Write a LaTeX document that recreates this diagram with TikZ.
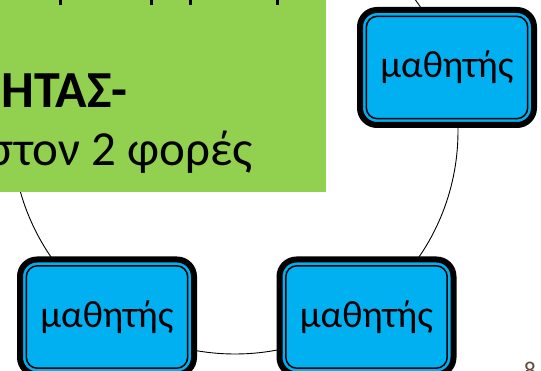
\documentclass[tikz,border=0pt]{standalone}
\usepackage{fontspec}
\setmainfont{Carlito}
\definecolor{boxgreen}{HTML}{92D050}
\definecolor{boxblue}{HTML}{00B0F0}
\definecolor{pagenum}{HTML}{5E4B3C}
\begin{document}
\begin{tikzpicture}[x=1pt,y=-1pt,
  student/.style={draw=black, line width=6pt, fill=boxblue, rounded corners=17pt,
    minimum width=174pt, minimum height=115pt, inner sep=0pt, outer sep=0pt,
    font=\fontsize{38}{40}\selectfont},
  innerline/.style={draw=black, line width=1.5pt, rounded corners=11pt},
  ring/.style={draw=black, line width=0.9pt},
  stub/.style={fill=black},
  greentext/.style={anchor=base east, inner sep=0pt, font=\fontsize{49}{52}\selectfont}]
\useasboundingbox (0,0) rectangle (541,371);
\clip (0,0) rectangle (541,371);
% cycle ring
\coordinate (ctr) at (235,131);
\draw[ring] (ctr) circle[radius=223pt];
% green text box
\fill[boxgreen] (0,0) rectangle (326,192);
\fill[stub] (59.3,0) rectangle (62.3,5);
\fill[stub] (150.3,0) rectangle (153.3,5);
\fill[stub] (188.6,0) rectangle (191.6,5);
\fill[stub] (276.3,0) rectangle (279.3,5);
\node[greentext, font=\fontsize{52}{56}\selectfont\bfseries] (t1) at (128,108) {ΗΤΑΣ-};
\node[greentext] (t2) at (253,166) {στον 2 φορές};
% students
\node[student] (s1) at (447,67.5) {\raisebox{-4pt}{μαθητής}};
\node[student] (s2) at (366.5,317) {\raisebox{-4pt}{μαθητής}};
\node[student] (s3) at (107,317) {\raisebox{-4pt}{μαθητής}};
\draw[innerline] ([shift={(6.3pt,6.3pt)}]s1.south west) rectangle ([shift={(-6.3pt,-6.3pt)}]s1.north east);
\draw[innerline] ([shift={(6.3pt,6.3pt)}]s2.south west) rectangle ([shift={(-6.3pt,-6.3pt)}]s2.north east);
\draw[innerline] ([shift={(6.3pt,6.3pt)}]s3.south west) rectangle ([shift={(-6.3pt,-6.3pt)}]s3.north east);
% page number
\node[anchor=north, inner sep=0pt, text=pagenum, font=\fontsize{24}{26}\selectfont] (pg) at (530,362) {8};
\end{tikzpicture}
\end{document}
